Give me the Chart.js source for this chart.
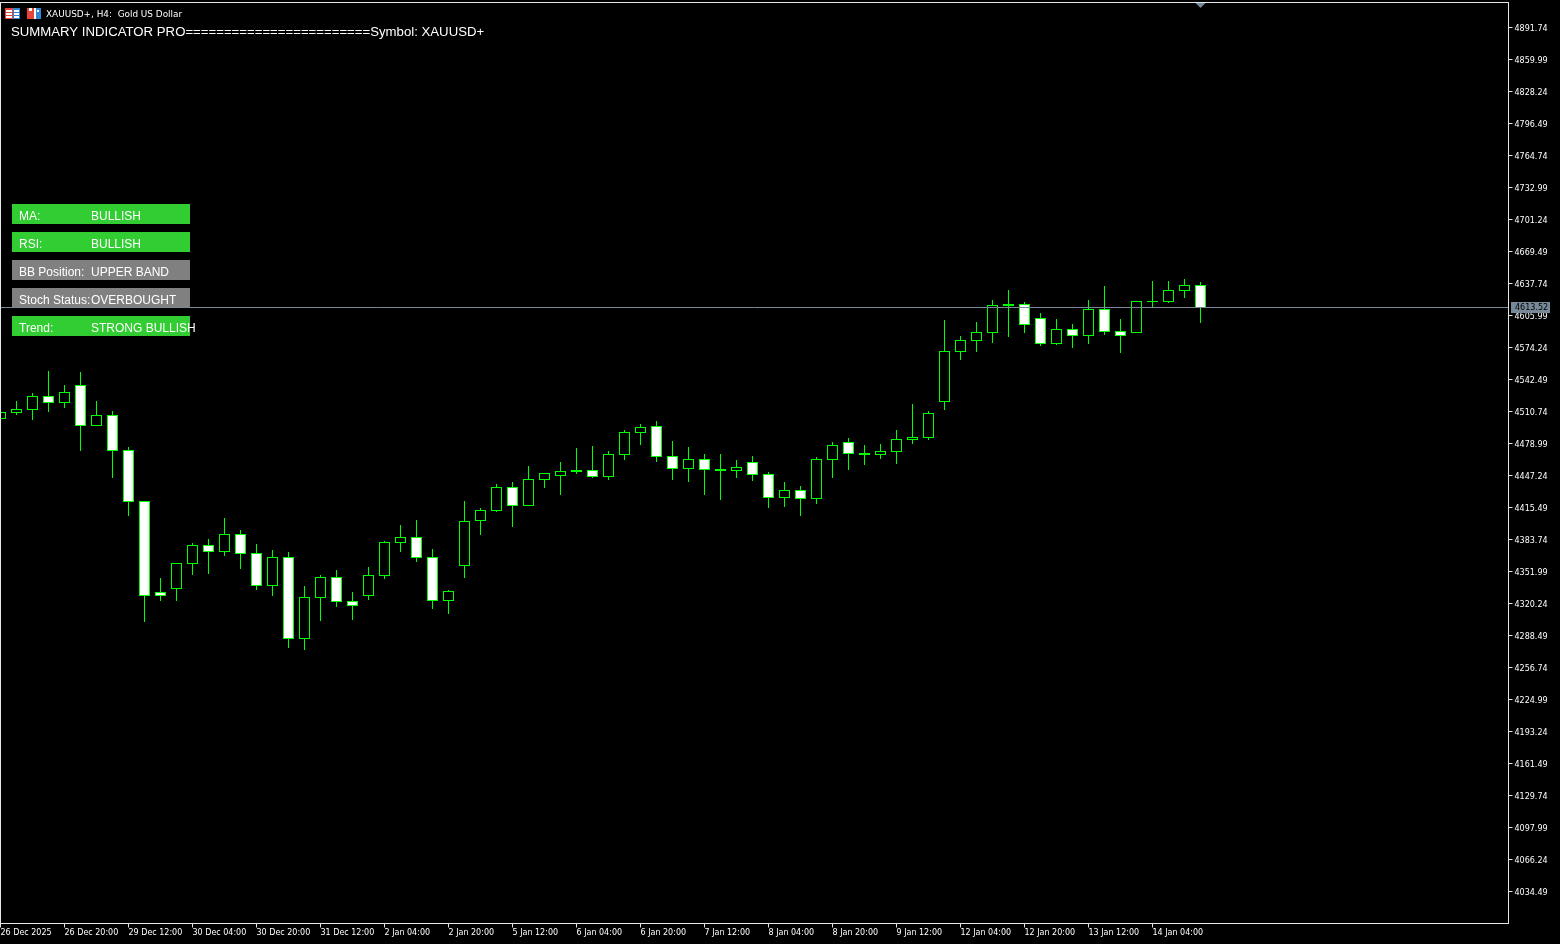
<!DOCTYPE html>
<html>
<head>
<meta charset="utf-8">
<style>html,body{margin:0;padding:0;background:#000;overflow:hidden}canvas{display:block}</style>
<script src="https://cdn.jsdelivr.net/npm/chart.js@4/dist/chart.umd.min.js"></script>
</head>
<body>
<canvas id="c" width="1560" height="944"></canvas>
<script>
const opens = [4503.30,4509.25,4512.23,4526.12,4519.17,4537.03,4496.35,4507.27,4472.54,4421.94,4331.65,4334.63,4359.43,4378.28,4371.34,4389.20,4370.35,4337.60,4366.38,4285.02,4325.70,4346.53,4322.72,4327.68,4347.53,4380.27,4386.22,4366.38,4322.72,4357.45,4402.10,4412.02,4435.83,4416.98,4442.78,4446.74,4452.70,4452.70,4445.75,4467.58,4489.41,4496.35,4466.59,4453.69,4463.61,4453.69,4451.71,4460.63,4448.73,4424.92,4432.85,4423.92,4462.62,4480.48,4469.56,4467.58,4470.56,4482.46,4484.45,4520.17,4569.78,4580.69,4588.63,4615.42,4617.40,4603.51,4577.71,4592.60,4585.65,4612.44,4590.61,4588.63,4619.38,4619.38,4630.30,4636.25];
const highs = [4510.24,4521.16,4529.10,4550.92,4537.03,4549.93,4521.16,4511.24,4475.52,4421.94,4345.54,4360.42,4380.27,4384.24,4405.07,4393.17,4379.28,4373.32,4371.34,4337.60,4348.52,4353.48,4331.65,4356.46,4382.25,4398.13,4403.09,4374.31,4333.63,4421.94,4414.99,4438.81,4440.79,4456.67,4449.72,4460.63,4474.53,4476.51,4471.55,4492.38,4498.34,4501.31,4481.47,4475.52,4468.57,4468.57,4462.62,4466.59,4450.71,4440.79,4436.82,4465.60,4480.48,4484.45,4477.50,4478.49,4492.38,4518.18,4511.24,4601.53,4585.65,4599.54,4621.37,4631.29,4619.38,4608.47,4602.52,4597.56,4621.37,4635.26,4602.52,4620.38,4640.22,4640.22,4642.21,4639.23];
const lows = [4503.30,4507.27,4502.31,4510.24,4514.21,4471.55,4496.35,4444.76,4407.06,4301.88,4322.72,4322.72,4348.52,4349.51,4367.37,4354.47,4333.63,4327.68,4276.09,4274.10,4302.88,4316.77,4303.87,4323.71,4344.55,4371.34,4361.42,4314.78,4309.82,4345.54,4388.21,4411.03,4396.14,4416.98,4434.84,4427.89,4448.73,4444.76,4442.78,4462.62,4477.50,4460.63,4442.78,4440.79,4427.89,4422.93,4444.76,4441.78,4414.99,4415.99,4407.06,4418.96,4444.76,4452.70,4457.66,4463.61,4458.65,4478.49,4482.46,4512.23,4561.84,4569.78,4578.71,4584.66,4588.63,4575.73,4576.72,4573.74,4577.71,4586.64,4568.78,4588.63,4613.43,4618.39,4623.35,4598.55];
const closes = [4510.24,4513.22,4526.12,4519.17,4530.09,4496.35,4507.27,4471.55,4420.95,4327.68,4327.68,4360.42,4378.28,4371.34,4389.20,4369.35,4337.60,4366.38,4285.02,4326.69,4346.53,4321.73,4317.76,4348.52,4381.26,4386.22,4365.38,4322.72,4332.64,4402.10,4413.01,4435.83,4416.98,4443.77,4449.72,4451.71,4450.71,4445.75,4468.57,4490.40,4495.36,4465.60,4453.69,4463.61,4452.70,4451.71,4455.67,4447.74,4424.92,4432.85,4423.92,4463.61,4477.50,4468.57,4467.58,4471.55,4483.46,4485.44,4509.25,4570.77,4581.68,4589.62,4616.41,4617.40,4596.56,4577.71,4592.60,4585.65,4612.44,4589.62,4585.65,4620.38,4620.38,4631.29,4636.25,4613.52];
const xTickIndex = [0,4,8,12,16,20,24,28,32,36,40,44,48,52,56,60,64,68,72];
const xTickLabels = ["26 Dec 2025","26 Dec 20:00","29 Dec 12:00","30 Dec 04:00","30 Dec 20:00","31 Dec 12:00","2 Jan 04:00","2 Jan 20:00","5 Jan 12:00","6 Jan 04:00","6 Jan 20:00","7 Jan 12:00","8 Jan 04:00","8 Jan 20:00","9 Jan 12:00","12 Jan 04:00","12 Jan 20:00","13 Jan 12:00","14 Jan 04:00"];
const yTickValues = [4891.74,4859.99,4828.24,4796.49,4764.74,4732.99,4701.24,4669.49,4637.74,4605.99,4574.24,4542.49,4510.74,4478.99,4447.24,4415.49,4383.74,4351.99,4320.24,4288.49,4256.74,4224.99,4193.24,4161.49,4129.74,4097.99,4066.24,4034.49];
const lastPrice = 4613.52;
const panelNames = ["MA:","RSI:","BB Position:","Stoch Status:","Trend:"];
const panelValues = ["BULLISH","BULLISH","UPPER BAND","OVERBOUGHT","STRONG BULLISH"];
const panelColors = ["#32CD32","#32CD32","#808080","#808080","#32CD32"];
const chartTitle = "XAUUSD+, H4:  Gold US Dollar";
const summaryText = "SUMMARY INDICATOR PRO========================Symbol: XAUUSD+";

const GREEN = "#00FF00";
const noPadding = a => { a.paddingTop = a.paddingBottom = a.paddingLeft = a.paddingRight = 0; };
let labelsNudged = false;
const overlay = {
  id: "overlay",
  beforeDraw(chart) {
    if (labelsNudged) return;
    labelsNudged = true;
    chart.scales.y.getLabelItems().forEach(it => { it.options.translation[1] += 1; });
  },
  afterDraw(chart) {
    const c = chart.ctx, xs = chart.scales.x, ys = chart.scales.y;
    c.save();
    // frame
    c.strokeStyle = "#E6E6E6"; c.lineWidth = 1;
    c.strokeRect(0.5, 2.5, 1508, 921);
    // window icons
    c.fillStyle = "#E8433A"; c.fillRect(5, 8, 8, 11);
    c.fillStyle = "#2F86D6"; c.fillRect(13, 8, 7, 11);
    c.fillStyle = "#FFFFFF";
    [10, 13, 16].forEach(y => { c.fillRect(6, y, 6, 2); c.fillRect(14, y, 5, 2); });
    c.fillStyle = "#E8433A"; c.fillRect(27, 8, 7, 11);
    c.fillStyle = "#FFFFFF"; c.fillRect(29, 8, 3, 3); c.fillRect(34, 8, 2, 11);
    c.fillStyle = "#2F86D6"; c.fillRect(36, 8, 5, 11);
    c.fillStyle = "#FFFFFF"; c.fillRect(37, 10, 2, 2);
    // title + summary
    c.fillStyle = "#FFFFFF"; c.textBaseline = "alphabetic"; c.textAlign = "left";
    c.font = "8.9px 'DejaVu Sans'";
    c.fillText(chartTitle, 46, 17);
    c.font = "13.2px 'Liberation Sans'";
    c.fillText(summaryText, 11, 36);
    // panels
    c.font = "12px 'Liberation Sans'";
    panelNames.forEach((name, i) => {
      const top = 204 + i * 28;
      c.fillStyle = panelColors[i];
      c.fillRect(12, top, 178, 20);
      c.fillStyle = "#FFFFFF";
      c.fillText(name, 19, top + 16);
      c.fillText(panelValues[i], 91, top + 16);
    });
    // price line, label, and last-bar marker
    const py = Math.floor(ys.getPixelForValue(lastPrice)) + 0.5;
    c.strokeStyle = "#778899";
    c.beginPath(); c.moveTo(1, py); c.lineTo(1508, py); c.stroke();
    c.fillStyle = "#778899"; c.fillRect(1511, py - 5.5, 39, 11);
    c.fillStyle = "#000000"; c.font = "8px 'DejaVu Sans'"; c.textBaseline = "middle";
    c.fillText(lastPrice.toFixed(2), 1515, py + 0.5);
    const tx = xs.getPixelForValue(opens.length - 1);
    c.fillStyle = "#778899";
    c.beginPath(); c.moveTo(tx - 5, 3); c.lineTo(tx + 5, 3); c.lineTo(tx, 8); c.closePath(); c.fill();
    c.restore();
  }
};

const wickData = lows.map((l, i) => ({ x: i, y: [l, highs[i]] }));
const bodyData = opens.map((o, i) => ({ x: i, y: [o, closes[i]] }));

new Chart(document.getElementById("c"), {
  type: "bar",
  data: {
    datasets: [
      { label: "Wick", data: wickData, backgroundColor: GREEN, borderWidth: 0, inflateAmount: 0, barThickness: 1, grouped: false, order: 2 },
      { label: "Body", data: bodyData, borderColor: GREEN, borderWidth: 1, borderSkipped: false, inflateAmount: 0, barThickness: 11, grouped: false, order: 1,
        backgroundColor: ctx => (ctx.raw && ctx.raw.y[1] < ctx.raw.y[0]) ? "#FFFFFF" : "#000000" }
    ]
  },
  options: {
    responsive: false,
    animation: false,
    devicePixelRatio: 1,
    events: [],
    layout: { autoPadding: false, padding: { top: 2.5, left: 0, right: 0, bottom: 0 } },
    plugins: { legend: { display: false }, tooltip: { enabled: false }, title: { display: false } },
    scales: {
      x: {
        type: "linear", offset: false, min: -0.03125, max: 94.25,
        position: "bottom",
        afterBuildTicks: a => { a.ticks = xTickIndex.map(v => ({ value: v })); },
        afterFit: a => { a.height = 20.5; noPadding(a); },
        grid: { drawOnChartArea: false, drawTicks: true, tickLength: 4, tickColor: "#E6E6E6", offset: false },
        border: { display: false },
        ticks: {
          autoSkip: false, maxRotation: 0, minRotation: 0, align: "start", padding: 1,
          color: "#FFFFFF", font: { family: "'DejaVu Sans'", size: 8 },
          callback: v => { const k = xTickIndex.indexOf(v); return k >= 0 ? xTickLabels[k] : ""; }
        }
      },
      y: {
        type: "linear", position: "right", min: 4002.74, max: 4916.545,
        afterBuildTicks: a => { a.ticks = yTickValues.map(v => ({ value: v })); },
        afterFit: a => { a.width = 51.5; noPadding(a); },
        grid: { drawOnChartArea: false, drawTicks: true, tickLength: 4, tickColor: "#E6E6E6" },
        border: { display: false },
        ticks: {
          autoSkip: false, padding: 2,
          color: "#FFFFFF", font: { family: "'DejaVu Sans'", size: 8 },
          callback: v => v.toFixed(2)
        }
      }
    }
  },
  plugins: [overlay]
});
</script>
</body>
</html>
